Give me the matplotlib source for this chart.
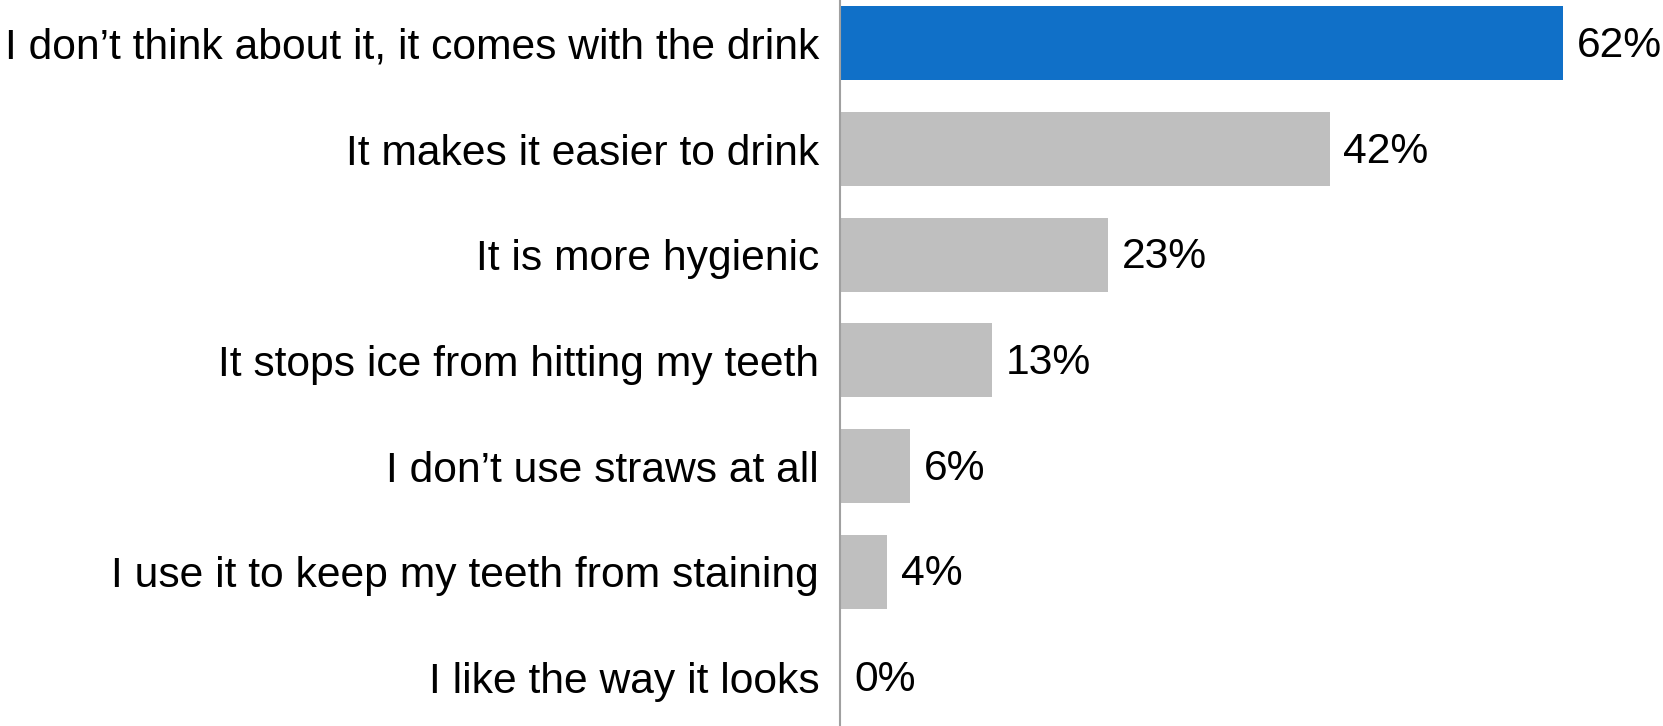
import numpy as np
import matplotlib.pyplot as plt
import matplotlib.transforms as mtransforms

plt.rcParams['font.family'] = ['Liberation Sans', 'DejaVu Sans']

labels = ["I don\u2019t think about it, it comes with the drink",
          "It makes it easier to drink",
          "It is more hygienic",
          "It stops ice from hitting my teeth",
          "I don\u2019t use straws at all",
          "I use it to keep my teeth from staining",
          "I like the way it looks"]
values = [62, 42, 23, 13, 6, 4, 0]
colors = ["#1070C8"] + ["#BFBFBF"] * 6

fig = plt.figure(figsize=(16.63, 7.26), dpi=100)
ax = fig.add_axes([840 / 1663, 0, 823 / 1663, 1])

y = np.arange(len(values))
ax.barh(y, values, height=0.70, color=colors)
ax.set_ylim(6.46, -0.41)
ax.set_xlim(0, 70.6)

for yi, v in zip(y, values):
    ax.annotate("%d%%" % v, (v, yi), xytext=(10, -2), textcoords="offset points",
                va="center", ha="left", fontsize=30.7)

ax.set_yticks(y)
ax.set_yticklabels(labels, fontsize=30.7)
# nudge category labels down a little
shift = mtransforms.ScaledTranslation(0, -2 / 72, fig.dpi_scale_trans)
for t in ax.get_yticklabels():
    t.set_transform(t.get_transform() + shift)
ax.tick_params(axis="y", length=0, pad=15)
ax.set_xticks([])
for s in ["top", "right", "bottom"]:
    ax.spines[s].set_visible(False)
ax.spines["left"].set_color("#A0A0A0")
ax.spines["left"].set_linewidth(1.5)

fig.savefig("out.png", dpi=100)
